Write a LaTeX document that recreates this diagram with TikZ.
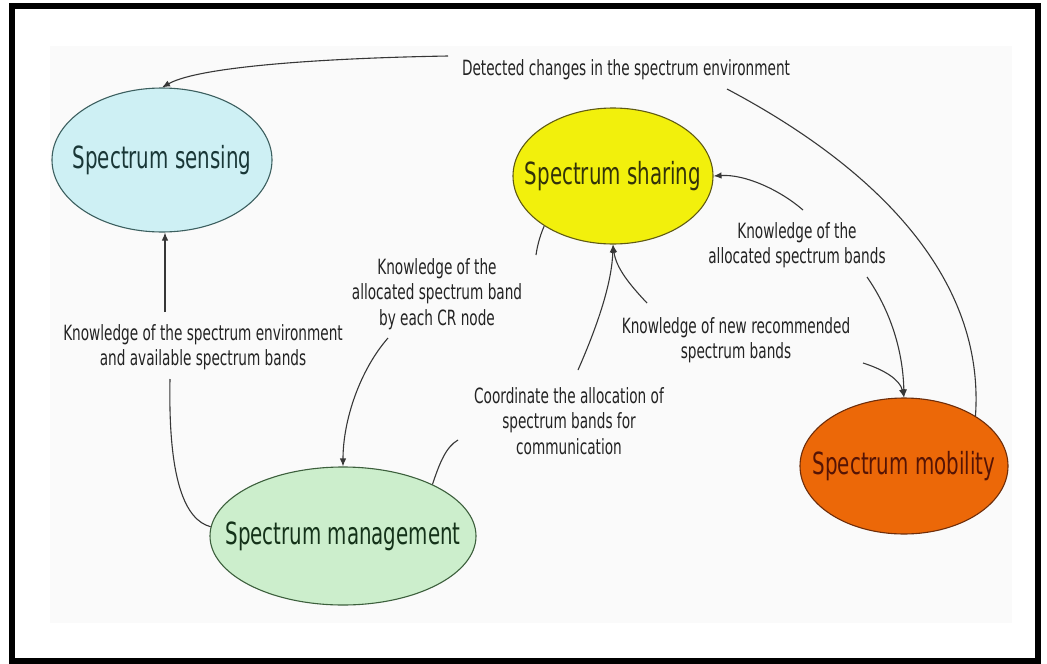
\documentclass[tikz,border=0pt]{standalone}
\usepackage{fontspec}
\setmainfont{DejaVu Sans}[FakeStretch=0.65]
\usetikzlibrary{arrows.meta,shapes.geometric}

\definecolor{senseFill}{RGB}{206,240,244}
\definecolor{senseLine}{RGB}{60,95,95}
\definecolor{senseText}{RGB}{25,55,55}
\definecolor{shareFill}{RGB}{242,240,12}
\definecolor{shareLine}{RGB}{95,90,20}
\definecolor{shareText}{RGB}{50,50,10}
\definecolor{mgmtFill}{RGB}{204,238,204}
\definecolor{mgmtLine}{RGB}{60,95,60}
\definecolor{mgmtText}{RGB}{20,50,25}
\definecolor{mobFill}{RGB}{236,104,8}
\definecolor{mobLine}{RGB}{110,45,10}
\definecolor{mobText}{RGB}{85,20,5}
\definecolor{wire}{RGB}{55,55,55}
\definecolor{labelText}{RGB}{35,35,35}
\definecolor{panel}{RGB}{250,250,250}

\begin{document}
\begin{tikzpicture}[x=1pt,y=-1pt,
  stage/.style={ellipse,draw,line width=1.1pt,inner sep=0pt},
  stagetext/.style={font=\fontsize{30.5}{34}\selectfont,inner sep=0pt},
  note/.style={font=\fontsize{21}{25.5}\selectfont,align=center,inner sep=0pt,text=labelText},
  wireline/.style={draw=wire,line width=1.1pt},
  arr/.style={wireline,-{Latex[length=8pt,width=6.5pt]}},
]
\useasboundingbox (0,0) rectangle (1047,664);
% background panel and frame
\fill[panel] (50,46) rectangle (1012,623);
\draw[line width=6pt] (11.5,6) rectangle (1038,661);

% the four functions
\node[stage,fill=senseFill,draw=senseLine,minimum width=220pt,minimum height=144pt] (sense) at (162,160) {};
\node[stagetext,text=senseText] (senseT) at (sense.center) {Spectrum sensing};
\node[stage,fill=shareFill,draw=shareLine,minimum width=200pt,minimum height=136pt] (share) at (613,176) {};
\node[stagetext,text=shareText] (shareT) at (share.center) {Spectrum sharing};
\node[stage,fill=mgmtFill,draw=mgmtLine,minimum width=266pt,minimum height=138pt] (mgmt) at (343,536) {};
\node[stagetext,text=mgmtText] (mgmtT) at (mgmt.center) {Spectrum management};
\node[stage,fill=mobFill,draw=mobLine,minimum width=208pt,minimum height=136pt] (mob) at (904,466) {};
\node[stagetext,text=mobText] (mobT) at (mob.center) {Spectrum mobility};

% labels on the exchanges
\node[note] (det) at (626,70) {Detected changes in the spectrum environment};
\node[note] (kse) at (203,347) {Knowledge of the spectrum environment\\and available spectrum bands};
\node[note] (kcr) at (437,294) {Knowledge of the\\allocated spectrum band\\by each CR node};
\node[note] (coo) at (569,421) {Coordinate the allocation of\\spectrum bands for\\communication};
\node[note] (knr) at (736,340) {Knowledge of new recommended\\spectrum bands};
\node[note] (kab) at (797,245) {Knowledge of the\\allocated spectrum bands};

% loose ends of the connectors beside the labels
\coordinate (detL) at (448,56);
\coordinate (detR) at (727,89);
\coordinate (kseT) at (165,312);
\coordinate (kseB) at (170,379);
\coordinate (kcrT) at (536,255);
\coordinate (kcrB) at (388,338);
\coordinate (cooT) at (578,370);
\coordinate (cooB) at (458,440);
\coordinate (knrT) at (647,303);
\coordinate (knrR) at (863,363);
\coordinate (kabT) at (803,210);
\coordinate (kabB) at (867,277);

% mobility -> sensing
\draw[wireline] (mob.35) .. controls (985,280) and (880,170) .. (detR);
\draw[arr] (detL) .. controls (330,58) and (200,66) .. (sense.north);
% management -> sensing
\draw[wireline] (mgmt.176) .. controls (185,520) and (168,480) .. (kseB);
\draw[arr] (kseT) -- (kseT |- sense.south);
% sharing -> management
\draw[wireline] (share.216) .. controls (539,238) and (537,248) .. (kcrT);
\draw[arr] (kcrB) .. controls (360,370) and (343,420) .. (mgmt.north);
% management -> sharing
\draw[wireline] (mgmt.30) .. controls (440,462) and (446,447) .. (cooB);
\draw[arr] (cooT) .. controls (600,320) and (612,280) .. (share.south);
% new recommended bands
\draw[arr] (knrT) .. controls (630,285) and (616,268) .. (share.south);
\draw[arr] (knrR) .. controls (885,370) and (900,380) .. (mob.north);
% allocated bands
\draw[arr] (kabT) .. controls (780,190) and (745,174) .. (share.east);
\draw[arr] (kabB) .. controls (890,310) and (903,350) .. (mob.north);
\end{tikzpicture}
\end{document}
